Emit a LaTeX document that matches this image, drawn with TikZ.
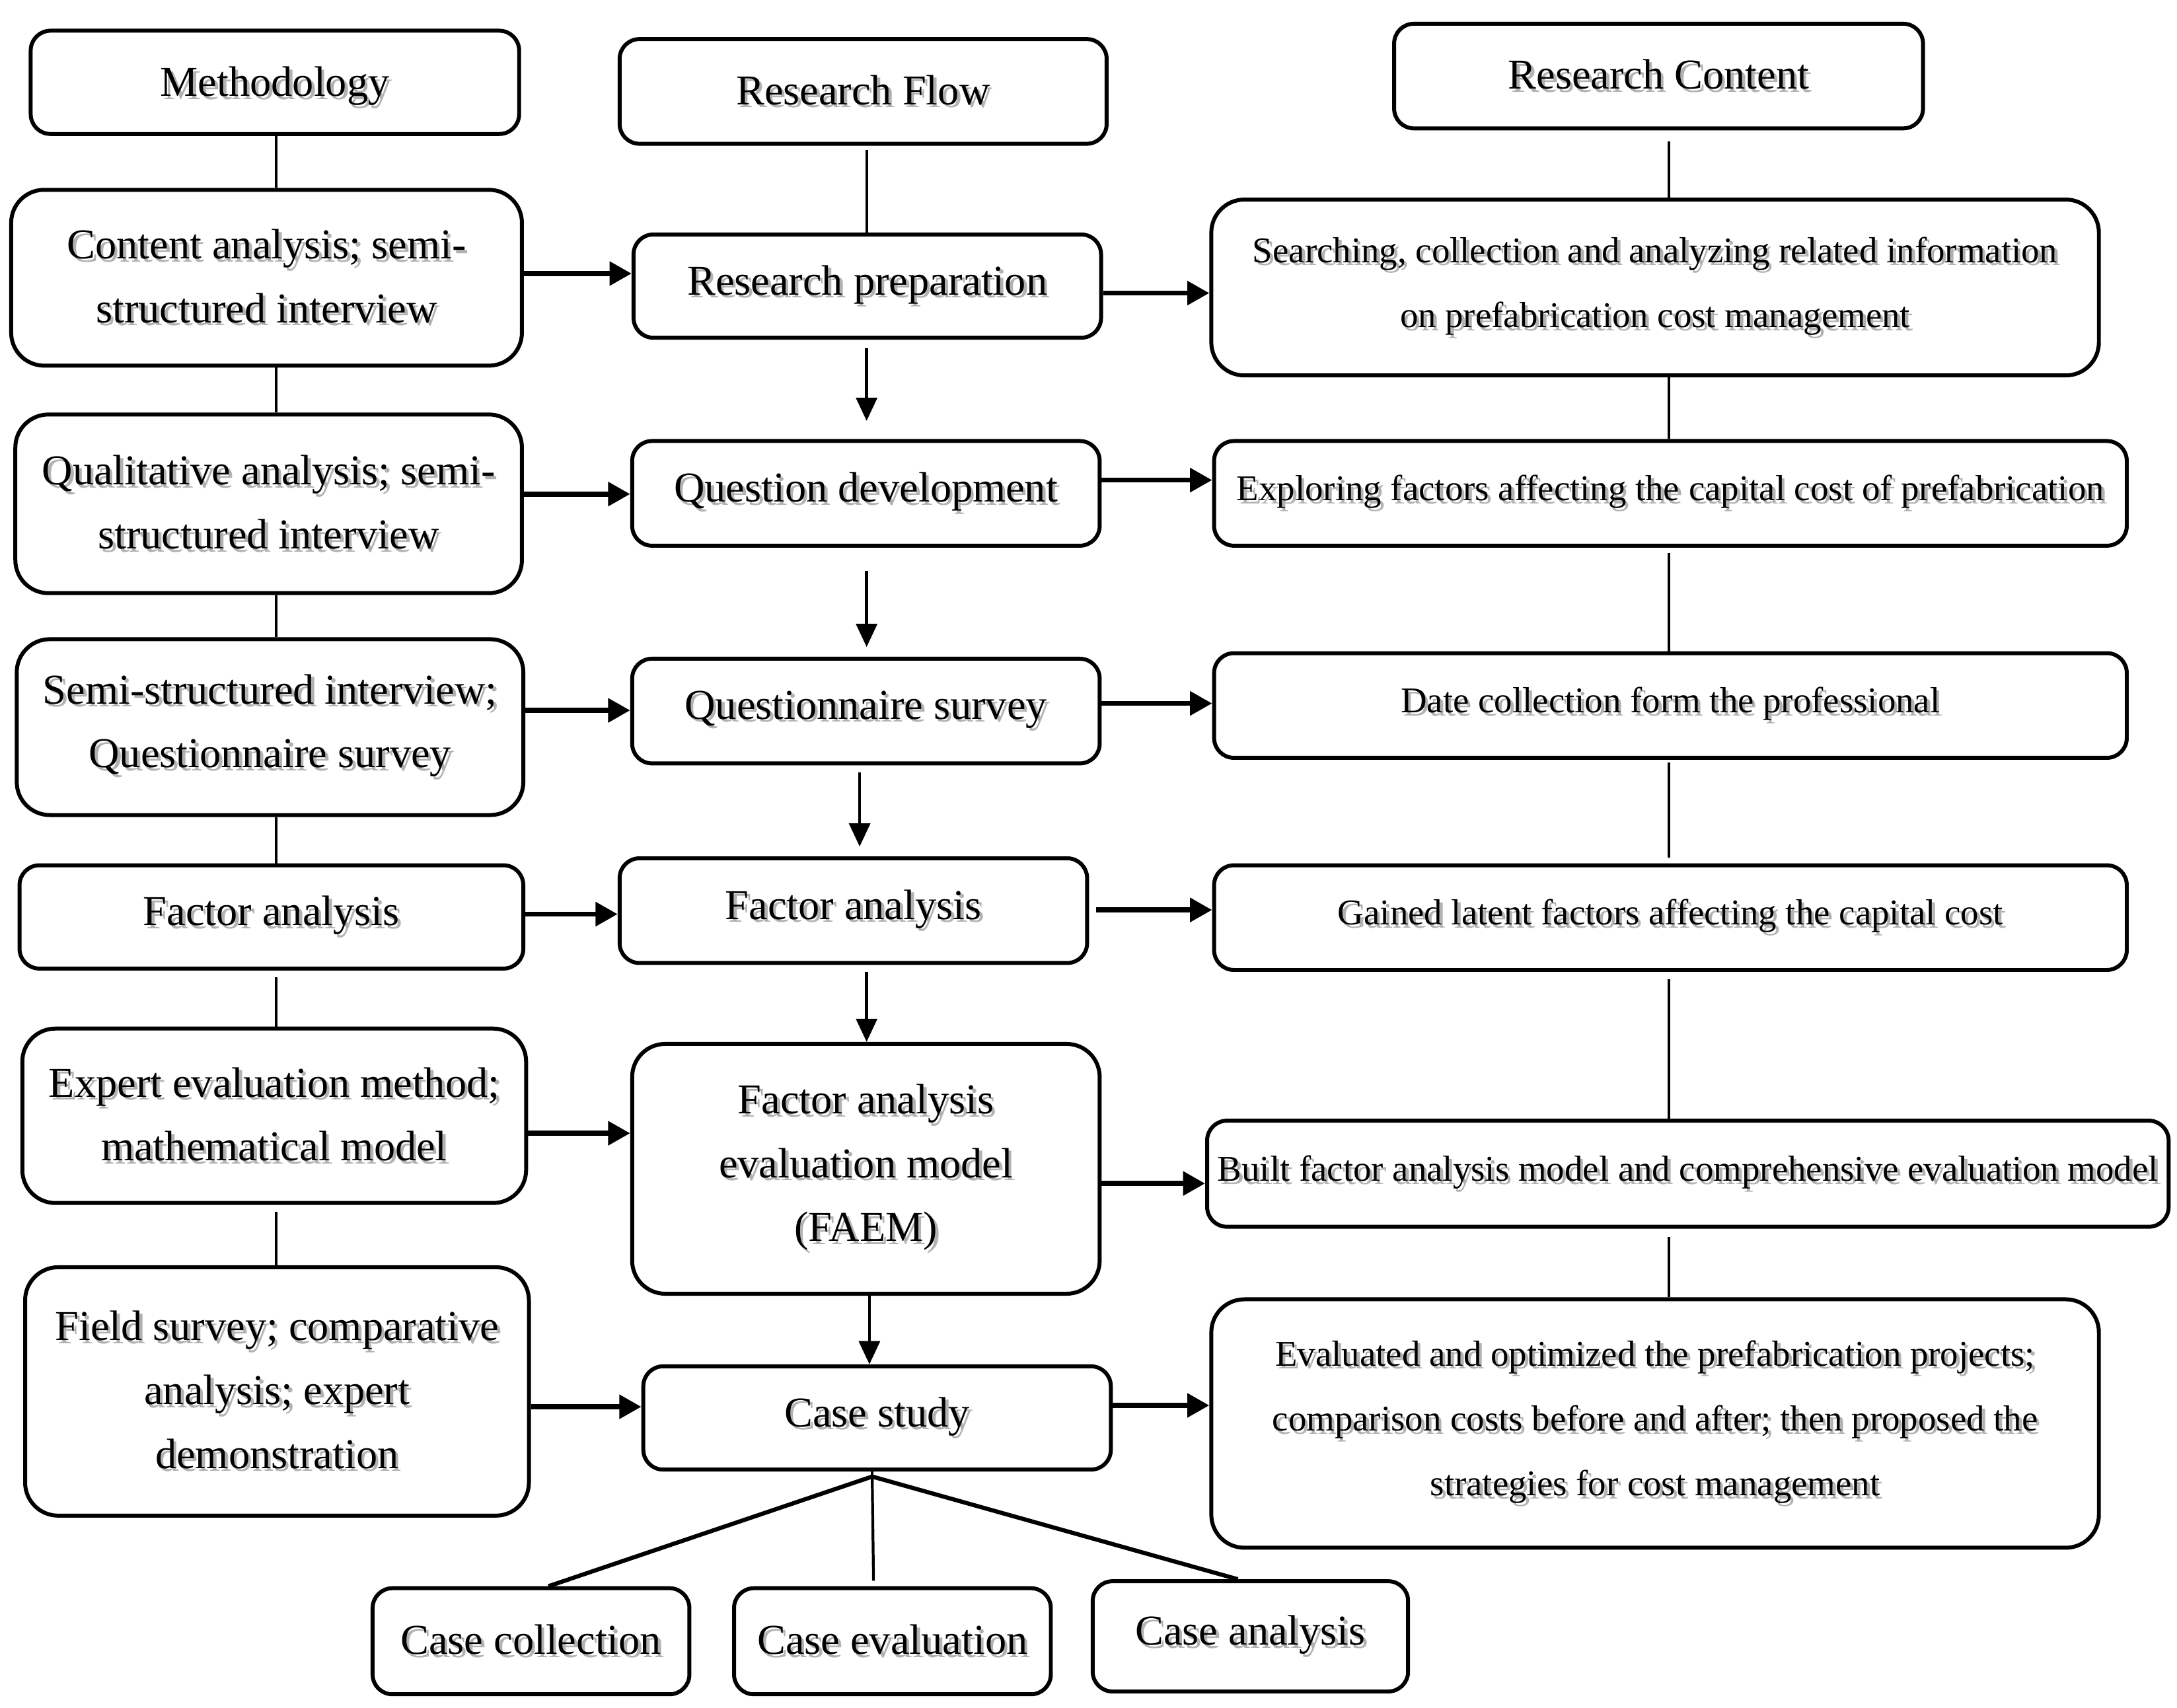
\documentclass[tikz,border=0pt]{standalone}
\usepackage{fontspec}
\setmainfont{Liberation Serif}
\usetikzlibrary{arrows.meta,fit}
\newcommand{\mainfnt}{\fontsize{18.3}{27.5}\selectfont}
\newcommand{\contfnt}{\fontsize{15.6}{28}\selectfont}
\newcommand{\sh}[1]{\leavevmode\rlap{\hspace{1.3pt}\raisebox{-1.3pt}{\color{black!30}#1}}#1}
\begin{document}
\begin{tikzpicture}[x=0.021122cm, y=-0.021122cm,
  box/.style={draw, line width=1.7pt, rounded corners=0.3cm, inner sep=0pt},
  bigbox/.style={box, rounded corners=0.5cm},
  txt/.style={inner sep=0pt, align=center, font=\mainfnt},
  ctxt/.style={txt, font=\contfnt},
  harrow/.style={line width=2.2pt, -{Triangle[length=9.5pt,width=10pt]}},
  varrow/.style={line width=1.3pt, -{Triangle[length=10pt,width=9pt]}},
  link/.style={line width=1.2pt},
  diag/.style={line width=1.8pt}]
\fill[white] (0,0) rectangle (1560,1223.4);
\useasboundingbox (0,0) rectangle (1560,1223.4);

% Column 1: Methodology
\node[box, fit={(22,22) (372,96)}] (mh) {};
\node[txt, yshift=-2.2pt] (mh-t) at (mh.center) {\sh{Methodology}};
\node[bigbox, fit={(8,136) (374,262)}] (c1) {};
\node[txt] (c1-t) at (c1.center) {\sh{Content analysis; semi-}\\\sh{structured interview}};
\node[bigbox, fit={(11,297) (374,425)}] (c2) {};
\node[txt] (c2-t) at (c2.center) {\sh{Qualitative analysis; semi-}\\\sh{structured interview}};
\node[bigbox, fit={(12,458) (375,584)}] (c3) {};
\node[txt] (c3-t) at (c3.center) {\sh{Semi-structured interview;}\\\sh{Questionnaire survey}};
\node[box, fit={(14,620) (375,694)}] (c4) {};
\node[txt] (c4-t) at (c4.center) {\sh{Factor analysis}};
\node[bigbox, fit={(16,737) (377,862)}] (c5) {};
\node[txt] (c5-t) at (c5.center) {\sh{Expert evaluation method;}\\\sh{mathematical model}};
\node[bigbox, fit={(18,908) (379,1086)}] (c6) {};
\node[txt] (c6-t) at (c6.center) {\sh{Field survey; comparative}\\\sh{analysis; expert}\\\sh{demonstration}};

% Column 2: Research Flow
\node[box, fit={(444,28) (793,103)}] (rf) {};
\node[txt] (rf-t) at (rf.center) {\sh{Research Flow}};
\node[box, fit={(454,168) (789,242)}] (rp) {};
\node[txt] (rp-t) at (rp.center) {\sh{Research preparation}};
\node[box, fit={(453,316) (788,391)}] (qd) {};
\node[txt] (qd-t) at (qd.center) {\sh{Question development}};
\node[box, fit={(453,472) (788,547)}] (qs) {};
\node[txt] (qs-t) at (qs.center) {\sh{Questionnaire survey}};
\node[box, fit={(444,615) (779,690)}] (fa) {};
\node[txt] (fa-t) at (fa.center) {\sh{Factor analysis}};
\node[bigbox, fit={(453,748) (788,927)}] (fm) {};
\node[txt] (fm-t) at (fm.center) {\sh{Factor analysis}\\\sh{evaluation model}\\\sh{(FAEM)}};
\node[box, fit={(461,979) (796,1053)}] (cs) {};
\node[txt] (cs-t) at (cs.center) {\sh{Case study}};

% Column 3: Research Content
\node[box, fit={(999,17) (1378,92)}] (rc) {};
\node[txt] (rc-t) at (rc.center) {\sh{Research Content}};
\node[bigbox, fit={(868,143) (1504,269)}] (s1) {};
\node[ctxt] (s1-t) at (s1.center) {\sh{Searching, collection and analyzing related information}\\\sh{on prefabrication cost management}};
\node[box, fit={(870,316) (1524,391)}] (ex) {};
\node[ctxt] (ex-t) at (ex.center) {\sh{Exploring factors affecting the capital cost of prefabrication}};
\node[box, fit={(870,468) (1524,543)}] (dc) {};
\node[ctxt] (dc-t) at (dc.center) {\sh{Date collection form the professional}};
\node[box, fit={(870,620) (1524,695)}] (gl) {};
\node[ctxt] (gl-t) at (gl.center) {\sh{Gained latent factors affecting the capital cost}};
\node[box, fit={(865,803) (1554,879)}] (bf) {};
\node[ctxt] (bf-t) at (bf.center) {\sh{Built factor analysis model and comprehensive evaluation model}};
\node[bigbox, fit={(868,931) (1504,1109)}] (ev) {};
\node[ctxt] (ev-t) at (ev.center) {\sh{Evaluated and optimized the prefabrication projects;}\\\sh{comparison costs before and after; then proposed the}\\\sh{strategies for cost management}};

% Bottom cases
\node[box, fit={(267,1138) (494,1214)}] (cc) {};
\node[txt] (cc-t) at (cc.center) {\sh{Case collection}};
\node[box, fit={(526,1138) (753,1214)}] (ce) {};
\node[txt] (ce-t) at (ce.center) {\sh{Case evaluation}};
\node[box, fit={(783,1133) (1009,1212)}] (ca) {};
\node[txt] (ca-t) at (ca.center) {\sh{Case analysis}};

% helper coordinates
\coordinate (x1) at (198,0);
\coordinate (x2) at (621,0);
\coordinate (x2b) at (616,0);
\coordinate (x2c) at (623,0);
\coordinate (x3) at (1196,0);
\coordinate (hub) at (625,1058);
\coordinate (tc) at (393,0);
\coordinate (te) at (626,0);
\coordinate (ta) at (887,0);

% column 1 links
\draw[link] (mh.south -| x1) -- (c1.north -| x1);
\draw[link] (c1.south -| x1) -- (c2.north -| x1);
\draw[link] (c2.south -| x1) -- (c3.north -| x1);
\draw[link] (c3.south -| x1) -- (c4.north -| x1);
\draw[link, shorten <=3pt] (c4.south -| x1) -- (c5.north -| x1);
\draw[link, shorten <=3pt] (c5.south -| x1) -- (c6.north -| x1);

% column 2 flow
\draw[link, shorten <=1.8pt] (rf.south -| x2) -- (rp.north -| x2);
\draw[varrow, shorten <=3.6pt, shorten >=7.8pt] (rp.south -| x2) -- (qd.north -| x2);
\draw[varrow, shorten <=10pt, shorten >=4.2pt] (qd.south -| x2) -- (qs.north -| x2);
\draw[varrow, shorten <=3pt, shorten >=4.2pt] (qs.south -| x2b) -- (fa.north -| x2b);
\draw[varrow, shorten <=3pt] (fa.south -| x2) -- (fm.north -| x2);
\draw[varrow] (fm.south -| x2c) -- (cs.north -| x2c);

% column 3 links
\draw[link, shorten <=4.8pt] (rc.south -| x3) -- (s1.north -| x3);
\draw[link] (s1.south -| x3) -- (ex.north -| x3);
\draw[link, shorten <=2.4pt] (ex.south -| x3) -- (dc.north -| x3);
\draw[link, shorten <=1.2pt, shorten >=2.4pt] (dc.south -| x3) -- (gl.north -| x3);
\draw[link, shorten <=3pt] (gl.south -| x3) -- (bf.north -| x3);
\draw[link, shorten <=3.6pt] (bf.south -| x3) -- (ev.north -| x3);

% horizontal arrows: methodology -> flow
\draw[harrow] (c1.east |- 0,196) -- (rp.west |- 0,196);
\draw[harrow] (c2.east |- 0,354) -- (qd.west |- 0,354);
\draw[harrow] (c3.east |- 0,509) -- (qs.west |- 0,509);
\draw[harrow] (c4.east |- 0,655) -- (fa.west |- 0,655);
\draw[harrow] (c5.east |- 0,812) -- (fm.west |- 0,812);
\draw[harrow] (c6.east |- 0,1008) -- (cs.west |- 0,1008);

% horizontal arrows: flow -> content
\draw[harrow] (rp.east |- 0,210) -- (s1.west |- 0,210);
\draw[harrow] (qd.east |- 0,344) -- (ex.west |- 0,344);
\draw[harrow] (qs.east |- 0,504) -- (dc.west |- 0,504);
\draw[harrow, shorten <=3pt] (fa.east |- 0,652) -- (gl.west |- 0,652);
\draw[harrow] (fm.east |- 0,848) -- (bf.west |- 0,848);
\draw[harrow] (cs.east |- 0,1007) -- (ev.west |- 0,1007);

% case study branches
\draw[link] (cs.south -| hub) -- (hub);
\draw[diag] (hub) -- (cc.north -| tc);
\draw[link, shorten >=2.4pt] (hub) -- (ce.north -| te);
\draw[diag] (hub) -- (ca.north -| ta);
\end{tikzpicture}
\end{document}
